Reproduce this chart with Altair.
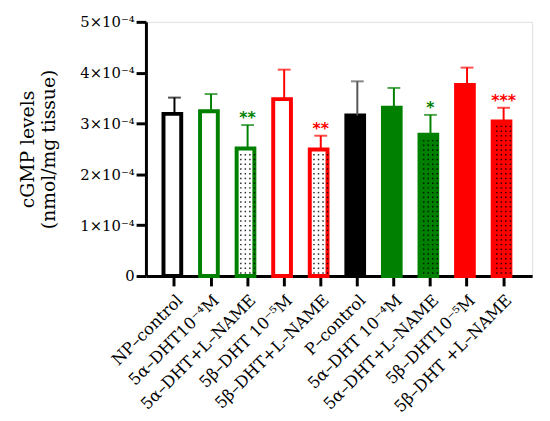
import altair as alt
import pandas as pd

# ---- data (values in units of 1e-4 nmol/mg tissue) ----
labels = ["NP–control", "5α–DHT10⁻⁴M", "5α–DHT+L–NAME", "5β–DHT 10⁻⁵M", "5β–DHT+L–NAME",
          "P–control", "5α–DHT 10⁻⁴M", "5α–DHT+L–NAME", "5β–DHT10⁻⁵M", "5β–DHT +L–NAME"]
state = ["NP", "NP", "NP", "NP", "NP", "P", "P", "P", "P", "P"]
treatment = ["control", "5a", "5a", "5b", "5b", "control", "5a", "5a", "5b", "5b"]
lname = [False, False, True, False, True, False, False, True, False, True]
means = [3.19, 3.24, 2.51, 3.48, 2.49, 3.16, 3.31, 2.78, 3.76, 3.04]
sems = [0.32, 0.34, 0.46, 0.58, 0.27, 0.67, 0.39, 0.39, 0.34, 0.27]
stars = ["", "", "**", "", "**", "", "", "*", "", "***"]

keys = [str(i) for i in range(len(labels))]
df = pd.DataFrame({
    "key": keys, "state": state, "treatment": treatment, "lname": lname,
    "mean": means, "sem": sems, "star": stars,
})
df["top"] = df["mean"] + df["sem"]
df["fillkey"] = [("none" if s == "NP" else t) for s, t in zip(state, treatment)]
df["errkey"] = [("ctlP" if (s == "P" and t == "control") else t) for s, t in zip(state, treatment)]

# dotted texture inside the L-NAME bars (decoration only)
dot_rows = []
for k, m, l in zip(keys, means, lname):
    if l:
        y = 0.06
        while y < m - 0.08:
            for c in range(4):
                dot_rows.append({"key": k, "y": y, "col": c})
            y += 0.093
dots = pd.DataFrame(dot_rows)

label_expr = "[" + ",".join("'" + s + "'" for s in labels) + "][toNumber(datum.value)]"

FONT = "DejaVu Serif"

x_enc = alt.X("key:N", sort=keys,
              scale=alt.Scale(paddingInner=0.4, paddingOuter=0.48),
              axis=alt.Axis(title=None, labelExpr=label_expr, labelAngle=-45,
                            labelAlign="right", labelBaseline="top",
                            labelFont=FONT, labelFontSize=16.5, labelColor="black",
                            labelPadding=6, tickSize=10, tickWidth=3, tickColor="black",
                            domainWidth=3, domainColor="black"))
y_scale = alt.Scale(domain=[0, 5], nice=False)

stroke_scale = alt.Scale(domain=["control", "5a", "5b"], range=["black", "#008000", "#ff0000"])
fill_scale = alt.Scale(domain=["none", "control", "5a", "5b"],
                       range=["white", "black", "#008000", "#ff0000"])
err_scale = alt.Scale(domain=["control", "ctlP", "5a", "5b"],
                      range=["black", "#555555", "#008000", "#ff0000"])

base = alt.Chart(df)

bars = base.mark_bar(strokeWidth=4).encode(
    x=x_enc,
    y=alt.Y("mean:Q", scale=y_scale,
            axis=alt.Axis(title=["cGMP levels", "(nmol/mg tissue)"], values=[0, 1, 2, 3, 4, 5],
                          labelExpr="datum.value == 0 ? '0' : datum.value + '×10⁻⁴'",
                          labelFont=FONT, labelFontSize=15, labelColor="black", labelPadding=2,
                          tickSize=10, tickWidth=3, tickColor="black",
                          domainWidth=3, domainColor="black", grid=False,
                          titleFont=FONT, titleFontSize=19, titleFontWeight="normal",
                          titleColor="black", titlePadding=22, titleLineHeight=21)),
    fill=alt.Fill("fillkey:N", scale=fill_scale, legend=None),
    stroke=alt.Stroke("treatment:N", scale=stroke_scale, legend=None),
)

err_rule = base.mark_rule(strokeWidth=2).encode(
    x=alt.X("key:N", sort=keys),
    y=alt.Y("mean:Q", scale=y_scale),
    y2="top:Q",
    color=alt.Color("errkey:N", scale=err_scale, legend=None),
)
err_cap = base.mark_tick(size=13, thickness=2).encode(
    x=alt.X("key:N", sort=keys),
    y=alt.Y("top:Q", scale=y_scale),
    color=alt.Color("errkey:N", scale=err_scale, legend=None),
)
star_text = base.mark_text(font="DejaVu Sans", fontWeight="bold", fontSize=16,
                           baseline="alphabetic", dy=-2).encode(
    x=alt.X("key:N", sort=keys),
    y=alt.Y("top:Q", scale=y_scale),
    text="star:N",
    color=alt.Color("treatment:N", scale=stroke_scale, legend=None),
)

dot_layer = alt.Chart(dots).mark_square(size=2.2, color="black", opacity=0.85).encode(
    x=alt.X("key:N", sort=keys),
    xOffset=alt.XOffset("col:Q", scale=alt.Scale(domain=[0, 3], range=[4.25, 18.05])),
    y=alt.Y("y:Q", scale=y_scale),
)

chart = alt.layer(bars, dot_layer, err_rule, err_cap, star_text).properties(
    width=392, height=258,
    autosize=alt.AutoSizeParams(type="none"),
    padding={"left": 140, "top": 11, "right": 10, "bottom": 140},
).configure_view(stroke=None).configure(background="white")

chart.save("out.html", embed_options={"renderer": "svg", "actions": False})
